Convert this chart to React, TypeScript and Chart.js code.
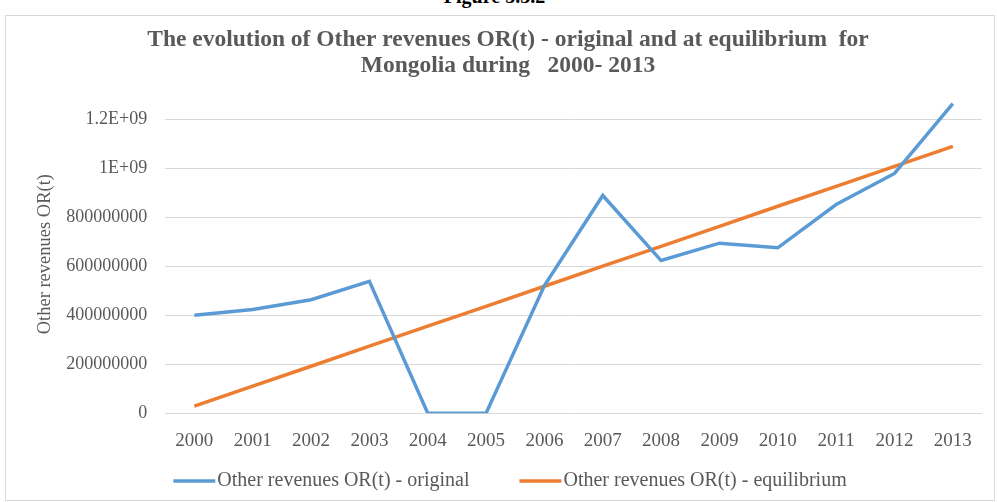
import React, { useEffect, useRef } from "react";
import { Chart, registerables } from "chart.js";

Chart.register(...registerables);

const years = ["2000", "2001", "2002", "2003", "2004", "2005", "2006", "2007", "2008", "2009", "2010", "2011", "2012", "2013"];
const originalValues = [400e6, 424e6, 464e6, 539e6, 0, 0, 522e6, 890e6, 624e6, 695e6, 676e6, 853e6, 980e6, 1265e6];
const equilibriumValues = [29e6, 111e6, 192e6, 274e6, 356e6, 437e6, 519e6, 601e6, 682e6, 764e6, 846e6, 927e6, 1009e6, 1091e6];
const yTickValues = [0, 200000000, 400000000, 600000000, 800000000, 1000000000, 1200000000];
const yTickTexts = ["0", "200000000", "400000000", "600000000", "800000000", "1E+09", "1.2E+09"];

const FONT = "'Liberation Serif', 'Times New Roman', serif";
const GRAY = "#595959";

// Legend drawn on the chart canvas from the datasets (line swatch + label)
const bottomLegend = {
  id: "bottomLegend",
  afterDraw(chart: any) {
    const ctx = chart.ctx;
    const sets = chart.data.datasets;
    const swatch = 42;
    const gapText = 2;
    const gapItems = 50;
    const centerX = 510;
    const y = 481;
    ctx.save();
    ctx.font = `20px ${FONT}`;
    const widths = sets.map((d: any) => swatch + gapText + ctx.measureText(d.label).width);
    const total = widths.reduce((a: number, b: number) => a + b, 0) + gapItems * (sets.length - 1);
    let x = centerX - total / 2;
    sets.forEach((d: any, i: number) => {
      ctx.strokeStyle = d.borderColor;
      ctx.lineWidth = 3.5;
      ctx.beginPath();
      ctx.moveTo(x, y);
      ctx.lineTo(x + swatch, y);
      ctx.stroke();
      ctx.fillStyle = GRAY;
      ctx.textBaseline = "middle";
      ctx.textAlign = "left";
      ctx.fillText(d.label, x + swatch + gapText, y);
      x += widths[i] + gapItems;
    });
    ctx.restore();
  },
};

export default function App() {
  const ref = useRef<HTMLCanvasElement | null>(null);
  useEffect(() => {
    const prevMargin = document.body.style.margin;
    document.body.style.margin = "0";
    if (!ref.current) return;
    const chart = new Chart(ref.current, {
      type: "line",
      data: {
        labels: years,
        datasets: [
          {
            label: "Other revenues OR(t) - original",
            data: originalValues,
            borderColor: "#5B9BD5",
            backgroundColor: "#5B9BD5",
            borderWidth: 3.5,
            pointRadius: 0,
            tension: 0,
          },
          {
            label: "Other revenues OR(t) - equilibrium",
            data: equilibriumValues,
            borderColor: "#ED7D31",
            backgroundColor: "#ED7D31",
            borderWidth: 3.5,
            pointRadius: 0,
            tension: 0,
          },
        ],
      },
      plugins: [bottomLegend],
      options: {
        animation: false,
        responsive: false,
        maintainAspectRatio: false,
        layout: { padding: { left: 34, right: 15, top: 0, bottom: 34 } },
        plugins: {
          title: {
            display: true,
            text: [
              "The evolution of Other revenues OR(t) - original and at equilibrium  for",
              "Mongolia during   2000- 2013",
            ],
            color: GRAY,
            font: { family: FONT, size: 23.5, weight: "bold", lineHeight: 1.11 },
            padding: { top: 27, bottom: 16 },
          },
          legend: { display: false },
          tooltip: { enabled: false },
        },
        scales: {
          x: {
            offset: true,
            grid: { display: false, drawTicks: false },
            border: { display: false },
            ticks: { color: GRAY, font: { family: FONT, size: 19 }, padding: 16, maxRotation: 0 },
          },
          y: {
            min: 0,
            max: 1.3e9,
            afterBuildTicks: (scale: any) => {
              scale.ticks = yTickValues.map((v) => ({ value: v }));
            },
            grid: { color: "#d9d9d9", lineWidth: 1, drawTicks: false },
            border: { display: false },
            ticks: {
              color: GRAY,
              font: { family: FONT, size: 18 },
              padding: 18,
              callback: (_v: any, i: number) => yTickTexts[i],
            },
            title: {
              display: true,
              text: "Other revenues OR(t)",
              color: GRAY,
              font: { family: FONT, size: 18.5 },
              padding: { top: 0, bottom: -8 },
            },
          },
        },
      },
    });
    return () => {
      chart.destroy();
      document.body.style.margin = prevMargin;
    };
  }, []);

  return (
    <div style={{ position: "relative", width: 997, height: 502, background: "#fff", overflow: "hidden" }}>
      <div
        style={{
          position: "absolute",
          top: -15,
          left: 0,
          width: 997,
          textAlign: "center",
          fontFamily: FONT,
          fontWeight: "bold",
          fontSize: 20,
          color: "#000",
          paddingRight: 8,
          boxSizing: "border-box",
        }}
      >
        Figure 5.3.2
      </div>
      <canvas ref={ref} width={997} height={502} style={{ position: "absolute", left: 0, top: 0, width: 997, height: 502 }} />
      <div
        style={{
          position: "absolute",
          left: 5,
          top: 15,
          width: 990,
          height: 486,
          border: "1px solid #d9d9d9",
          boxSizing: "border-box",
          pointerEvents: "none",
        }}
      />
    </div>
  );
}
